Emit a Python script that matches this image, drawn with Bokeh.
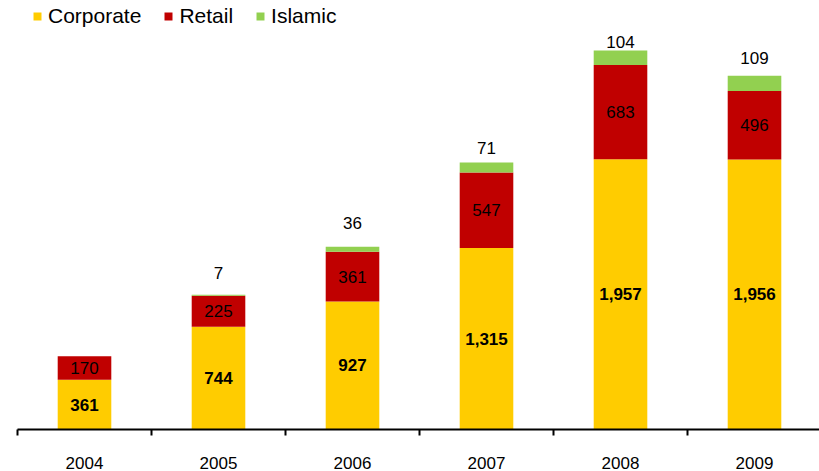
from bokeh.plotting import figure
from bokeh.models import ColumnDataSource, FixedTicker, Legend, LegendItem, Range1d
from bokeh.core.properties import value
from bokeh.embed import file_html
from bokeh.resources import INLINE

years = ["2004", "2005", "2006", "2007", "2008", "2009"]
corporate = [361, 744, 927, 1315, 1957, 1956]
retail = [170, 225, 361, 547, 683, 496]
islamic = [0, 7, 36, 71, 104, 109]

# styling: pixel lift of the Islamic labels above the bar tops
islamic_label_lift = [0, 22, 24, 15, 9, 18]

COL_CORP = "#FFCC00"
COL_RET = "#C00000"
COL_ISL = "#92D050"
FONT = "Liberation Sans"

xs = list(range(len(years)))
src = ColumnDataSource(dict(x=xs, Corporate=corporate, Retail=retail, Islamic=islamic))

p = figure(width=819, height=471, output_backend="svg", toolbar_location=None,
           x_range=Range1d(-0.5, -0.5 + 802 / 134), y_range=Range1d(0, 434 / 0.1397),
           y_axis_location=None, min_border_left=17, min_border_right=0,
           min_border_top=0, min_border_bottom=37)
p.outline_line_color = None
p.xgrid.visible = False
p.ygrid.visible = False

rs = p.vbar_stack(["Corporate", "Retail", "Islamic"], x="x", width=0.40, source=src,
                  color=[COL_CORP, COL_RET, COL_ISL], line_color=None)

# labels
corp_src = ColumnDataSource(dict(x=xs, y=[c / 2 for c in corporate],
                                 t=[f"{c:,}" for c in corporate]))
ret_src = ColumnDataSource(dict(x=xs, y=[c + r / 2 for c, r in zip(corporate, retail)],
                                t=[f"{r:,}" for r in retail]))
isl_idx = [i for i, v in enumerate(islamic) if v > 0]
isl_src = ColumnDataSource(dict(
    x=[xs[i] for i in isl_idx],
    y=[corporate[i] + retail[i] + islamic[i] for i in isl_idx],
    t=[f"{islamic[i]:,}" for i in isl_idx],
    off=[-islamic_label_lift[i] for i in isl_idx]))

p.text(x="x", y="y", text="t", source=corp_src, text_font=value(FONT),
       text_font_size="17px", text_font_style="bold", text_align="center",
       text_baseline="middle", text_color="#000000")
p.text(x="x", y="y", text="t", source=ret_src, text_font=value(FONT),
       text_font_size="17px", text_align="center", text_baseline="middle",
       text_color="#000000")
p.text(x="x", y="y", text="t", y_offset="off", source=isl_src, text_font=value(FONT),
       text_font_size="17px", text_align="center", text_baseline="middle",
       text_color="#000000")

# x axis
ax = p.xaxis[0]
ax.ticker = FixedTicker(ticks=xs, minor_ticks=[i - 0.5 for i in range(len(years) + 1)])
ax.major_label_overrides = {i: y for i, y in enumerate(years)}
ax.major_tick_line_color = None
ax.major_tick_out = 0
ax.major_tick_in = 0
ax.minor_tick_line_color = "#000000"
ax.minor_tick_line_width = 2
ax.minor_tick_in = 0
ax.minor_tick_out = 6
ax.axis_line_color = "#000000"
ax.axis_line_width = 2
ax.major_label_text_font = FONT
ax.major_label_text_font_size = "17px"
ax.major_label_text_color = "#000000"
ax.major_label_standoff = 21

legend = Legend(items=[LegendItem(label=n, renderers=[r]) for n, r in
                       zip(["Corporate", "Retail", "Islamic"], rs)],
                orientation="horizontal", location=(15, 401),
                margin=0, padding=0, spacing=22, label_standoff=6,
                glyph_width=10, glyph_height=10,
                label_text_font=FONT, label_text_font_size="21px",
                label_text_color="#000000", border_line_color=None,
                background_fill_alpha=0)
p.add_layout(legend, "center")

open("out.html", "w").write(file_html(p, INLINE))
